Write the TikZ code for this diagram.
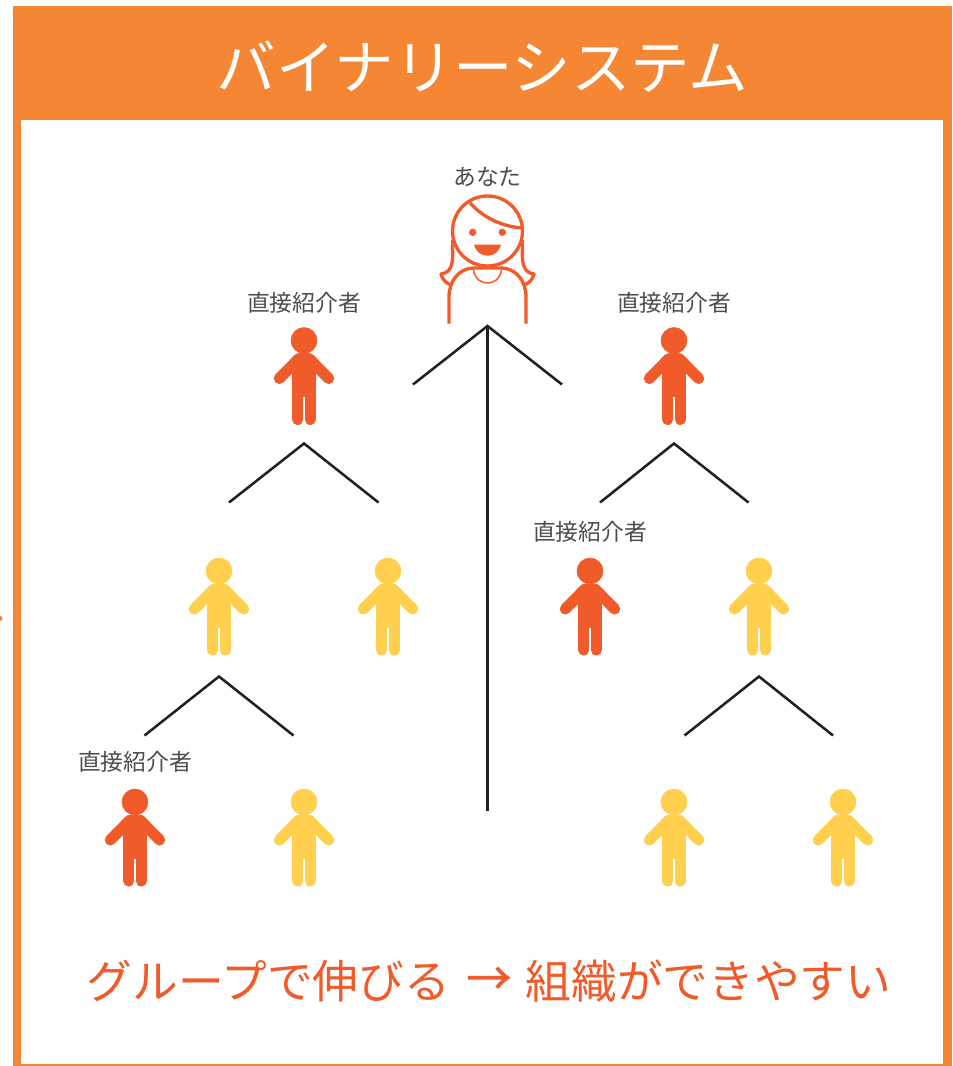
\documentclass[tikz,border=0pt]{standalone}
\usepackage{fontspec}
\newfontfamily\cjk{Noto Sans CJK JP}
\newfontfamily\cjkarrow[FakeBold=1.2]{Noto Sans CJK JP}
\definecolor{frameC}{HTML}{F58634}
\definecolor{redC}{HTML}{F15A29}
\definecolor{yelC}{HTML}{FFCF4D}
\definecolor{txtC}{HTML}{4D4D4D}
\definecolor{lineC}{HTML}{231F20}
\tikzset{
  lbl/.style={font=\cjk\fontsize{17.1}{17}\selectfont,text=txtC,inner sep=0pt},
  bigred/.style={inner sep=0pt,text=redC,font=\cjk\fontsize{34.3}{35}\selectfont},
  vline/.style={draw=lineC,line width=1.9pt},
  wstroke/.style={draw=redC,line width=2.5pt,line join=round},
  person/.pic={
    \fill[pic actions] (0,0) circle (13);
    \draw[pic actions,line width=8.3pt,line cap=round] (-6.5,19.5) -- (-24.7,38);
    \draw[pic actions,line width=8.3pt,line cap=round] (6.5,19.5) -- (24.7,38);
    \fill[pic actions,rounded corners=5pt] (-11.4,30) -- (-11.4,13) -- (11.4,13) -- (11.4,30) -- cycle;
    \fill[pic actions] (-11.4,20) rectangle (11.4,56);
    \draw[pic actions,line width=8.3pt,line cap=round] (-6.2,50) -- (-6.2,79);
    \draw[pic actions,line width=8.3pt,line cap=round] (6.2,50) -- (6.2,79);
  }
}
\begin{document}
\begin{tikzpicture}[x=0.75pt,y=-0.75pt]
\useasboundingbox (0,0) rectangle (952,1066);
% frame
\fill[frameC] (13,6) rectangle (952,1066);
\fill[white] (21,120) rectangle (943,1064);
\fill[frameC] (0,618.5) circle (2.5);
\node[inner sep=0pt,text=white,font=\cjk\fontsize{44.6}{45}\selectfont] (title) at (482.5,67) {バイナリーシステム};
% woman
\node[lbl] (you) at (487.5,177) {あなた};
\draw[wstroke] (487.5,231) circle (35);
\draw[wstroke] (470,203) .. controls (483,217) and (500,226) .. (521.5,228);
\fill[redC] (472.7,232.3) circle (3.7) (502.3,232.3) circle (3.7);
\fill[redC] (474,244.7) -- (501,244.7) .. controls (499,252) and (494,255.7) .. (487.5,255.7) .. controls (481,255.7) and (476,252) .. (474,244.7) -- cycle;
\draw[wstroke] (449,323.5) -- (449,297) .. controls (449,281) and (459,268) .. (474,268) -- (501,268) .. controls (516,268) and (526,281) .. (526,297) -- (526,323.5);
\draw[wstroke] (452.5,240) .. controls (452,255) and (456,272) .. (441,274) .. controls (443,281) and (447,284) .. (452,285);
\draw[wstroke] (522.5,240) .. controls (523,255) and (519,272) .. (534,274) .. controls (532,281) and (528,284) .. (523,285);
\draw[draw=redC,line width=1.1pt] (473.5,270) .. controls (475,279) and (481,283) .. (487.5,283) .. controls (494,283) and (500,279) .. (501.5,270);
% people
\foreach \nm/\x/\y/\c in {a/304/340.5/redC,b/674/340.5/redC,c/219/571/yelC,d/388/571/yelC,e/590/571/redC,f/759/571/yelC,g/135/802/redC,h/304/802/yelC,i/674/802/yelC,j/843/802/yelC}
  \pic[fill=\c,draw=\c] (\nm) at (\x,\y) {person};
\node[lbl] (la) at (304,302.5) {直接紹介者};
\node[lbl] (lb) at (674,302.5) {直接紹介者};
\node[lbl] (le) at (590,531.5) {直接紹介者};
\node[lbl] (lg) at (135,761.5) {直接紹介者};
% connectors
\coordinate (t0) at (487.5,326);
\coordinate (t1) at (413,384.5);
\coordinate (t2) at (562,384.5);
\coordinate (t3) at (487.5,811);
\draw[vline] (t1) -- (t0) -- (t2);
\draw[vline] (t0) -- (t3);
\foreach \n/\ax/\ay/\lx/\rx/\by in {A/304/443.5/229/378.5/502.5,B/674/443.5/600/748.5/502.5,C/219/676.5/144.5/293.5/735.5,D/759/676.5/684.5/833/735.5}{
  \coordinate (\n0) at (\ax,\ay);
  \coordinate (\n1) at (\lx,\by);
  \coordinate (\n2) at (\rx,\by);
  \draw[vline] (\n1) -- (\n0) -- (\n2);
}
% bottom text
\node[bigred] (botL) at (268.5,981) {グループで伸びる};
\node[bigred,font=\cjkarrow\fontsize{34}{35}\selectfont] (botA) at (489,981) {→};
\node[bigred] (botR) at (708.5,981) {組織ができやすい};
\end{tikzpicture}
\end{document}
